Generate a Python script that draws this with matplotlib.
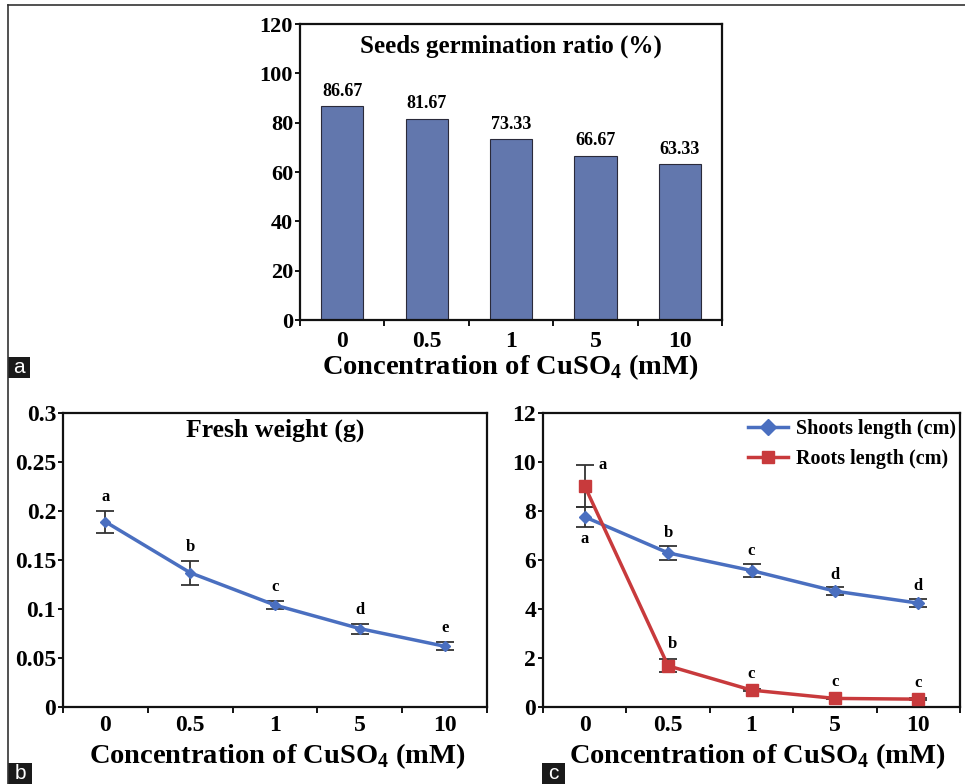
import numpy as np
import matplotlib
matplotlib.use("Agg")
import matplotlib.pyplot as plt
from matplotlib.patches import Rectangle
from matplotlib.lines import Line2D

plt.rcParams['font.family'] = ['Liberation Serif', 'DejaVu Serif']
plt.rcParams['font.weight'] = 'bold'
plt.rcParams['mathtext.fontset'] = 'custom'
plt.rcParams['mathtext.rm'] = 'Liberation Serif:bold'
plt.rcParams['mathtext.bf'] = 'Liberation Serif:bold'

# categories (CuSO4 concentration, mM)
conc = ["0", "0.5", "1", "5", "10"]

# panel a: germination ratio (%)
germ = [86.67, 81.67, 73.33, 66.67, 63.33]

# panel b: fresh weight (g)
fw = [0.189, 0.137, 0.104, 0.080, 0.062]
fw_err = [0.0115, 0.012, 0.004, 0.005, 0.004]
fw_letters = ["a", "b", "c", "d", "e"]

# panel c: shoot / root length (cm)
shoot = [7.76, 6.29, 5.57, 4.73, 4.24]
shoot_err = [0.41, 0.27, 0.26, 0.15, 0.16]
shoot_letters = ["a", "b", "c", "d", "d"]
root = [9.02, 1.68, 0.69, 0.35, 0.32]
root_err = [0.86, 0.27, 0.05, 0.03, 0.03]
root_letters = ["a", "b", "c", "c", "c"]

BLUE = "#4a6fc0"
RED = "#c83a3c"
BAR = "#6277ad"
W, H = 965, 784

fig = plt.figure(figsize=(W / 100, H / 100), dpi=100)


def px_axes(l, t, r, b):
    return fig.add_axes([l / W, 1 - b / H, (r - l) / W, (b - t) / H])


def style(ax, ylim, yticks, ylabfmt, yfs, xpad):
    x = np.arange(len(conc))
    ax.set_xlim(-0.5, len(conc) - 0.5)
    ax.set_ylim(*ylim)
    ax.set_xticks(x)
    ax.set_xticklabels(conc, fontsize=17, fontweight='bold')
    ax.set_xticks(np.arange(-0.5, len(conc)), minor=True)
    ax.tick_params(axis='x', which='major', length=0, pad=xpad)
    ax.tick_params(axis='x', which='minor', length=4, width=1.3, direction='out')
    ax.set_yticks(yticks)
    ax.set_yticklabels([ylabfmt(v) for v in yticks], fontsize=yfs, fontweight='bold')
    ax.tick_params(axis='y', length=3.5, width=1.3, direction='out', pad=1.5)
    for s in ax.spines.values():
        s.set_linewidth(1.6)
        s.set_color('#111111')


# ---- panel a
axa = px_axes(300, 24, 722, 320)
xa = np.arange(len(conc))
axa.bar(xa, germ, width=0.5, color=BAR, edgecolor='#2a2a3a', linewidth=0.8)
for xi, v in zip(xa, germ):
    axa.text(xi, v + 2.5, f"{v:.2f}", ha='center', va='bottom', fontsize=13, fontweight='bold')
style(axa, (0, 120), np.arange(0, 121, 20), lambda v: f"{v:g}", 16, 8)
axa.text(0.5, 0.925, "Seeds germination ratio (%)", transform=axa.transAxes,
         ha='center', va='center', fontsize=18, fontweight='bold')

# ---- panel b
axb = px_axes(63, 413, 487, 707)
xb = np.arange(len(conc))
axb.errorbar(xb, fw, yerr=fw_err, color=BLUE, lw=2.5, marker='D', ms=5,
             ecolor='#333333', elinewidth=1.3, capsize=6.5, capthick=1.3, zorder=3)
for xi, v, e, lab in zip(xb, fw, fw_err, fw_letters):
    axb.text(xi, v + e + 0.006, lab, ha='center', va='bottom', fontsize=12, fontweight='bold')
style(axb, (0, 0.3), np.arange(0, 0.301, 0.05), lambda v: f"{round(v, 2):g}", 17, 6)
axb.text(0.5, 0.94, "Fresh weight (g)", transform=axb.transAxes,
         ha='center', va='center', fontsize=18.5, fontweight='bold')

# ---- panel c
axc = px_axes(543, 413, 960, 707)
xc = np.arange(len(conc))
axc.errorbar(xc, shoot, yerr=shoot_err, color=BLUE, lw=2.5, marker='D', ms=6,
             ecolor='#333333', elinewidth=1.3, capsize=6.5, capthick=1.3, zorder=3,
             label="Shoots length (cm)")
axc.errorbar(xc, root, yerr=root_err, color=RED, lw=2.5, marker='s', ms=8,
             ecolor='#333333', elinewidth=1.3, capsize=6.5, capthick=1.3, zorder=3,
             label="Roots length (cm)")
# shoot letters (first one below the point)
for i, (v, e, lab) in enumerate(zip(shoot, shoot_err, shoot_letters)):
    if i == 0:
        axc.text(xc[i], v - e - 0.15, lab, ha='center', va='top', fontsize=12, fontweight='bold')
    else:
        axc.text(xc[i], v + e + 0.2, lab, ha='center', va='bottom', fontsize=12, fontweight='bold')
for i, (v, e, lab) in enumerate(zip(root, root_err, root_letters)):
    if i == 0:
        axc.text(xc[i] + 0.17, v + e, lab, ha='left', va='center', fontsize=12, fontweight='bold')
    else:
        axc.text(xc[i] + (0.05 if i == 1 else 0), v + e + 0.3, lab, ha='center', va='bottom',
                 fontsize=12, fontweight='bold')
style(axc, (0, 12), np.arange(0, 12.1, 2), lambda v: f"{v:g}", 17, 6)
handles = [Line2D([], [], color=BLUE, lw=2.5, marker='D', ms=8),
           Line2D([], [], color=RED, lw=2.5, marker='s', ms=9)]
axc.legend(handles, ["Shoots length (cm)", "Roots length (cm)"], loc='upper right',
           bbox_to_anchor=(1.035, 1.04), frameon=False, handlelength=2.0, handletextpad=0.4,
           labelspacing=0.5, prop={'family': 'Liberation Serif', 'weight': 'bold', 'size': 14.5})

# ---- x labels
xlab = r"Concentration of CuSO$_4$ (mM)"
fig.text(510 / W, 1 - 367 / H, xlab, ha='center', va='center', fontsize=20.5, fontweight='bold')
fig.text(277 / W, 1 - 756 / H, xlab, ha='center', va='center', fontsize=20.5, fontweight='bold')
fig.text(757 / W, 1 - 756 / H, xlab, ha='center', va='center', fontsize=20.5, fontweight='bold')

# ---- frame lines
fig.add_artist(Line2D([8 / W, 8 / W], [0, 1 - 5 / H], transform=fig.transFigure,
                      color='#333333', lw=1.2))
fig.add_artist(Line2D([8 / W, 1], [1 - 5 / H, 1 - 5 / H], transform=fig.transFigure,
                      color='#333333', lw=1.2))

# ---- panel tags
for lab, x0, x1, y0, y1 in [("a", 8, 30, 357, 378), ("b", 8, 32, 763, 784), ("c", 542, 565, 763, 784)]:
    fig.add_artist(Rectangle((x0 / W, 1 - y1 / H), (x1 - x0) / W, (y1 - y0) / H,
                             transform=fig.transFigure, color='#1a1a1a', lw=0))
    fig.text((x0 + x1) / 2 / W, 1 - (y0 + y1) / 2 / H, lab, ha='center', va='center',
             color='white', fontsize=15, family='Liberation Sans', fontweight='normal')

fig.savefig("out.png", dpi=100)
